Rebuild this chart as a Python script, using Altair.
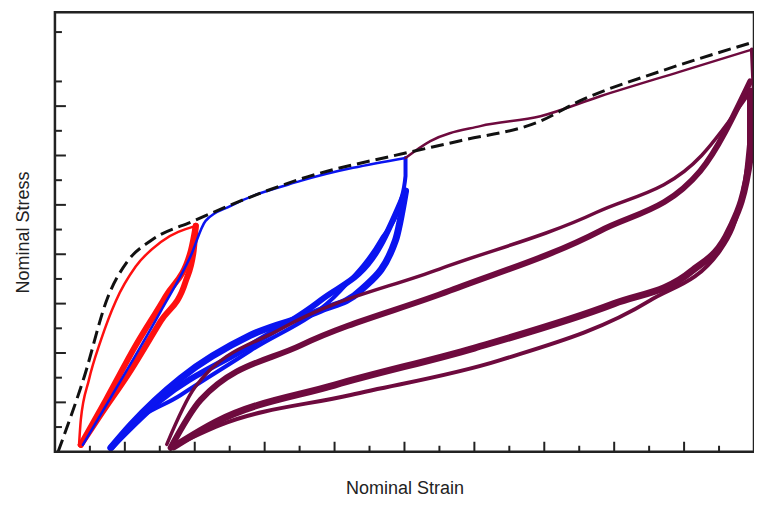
import altair as alt
import pandas as pd

# envelope (dashed)
env_x = [0.09, 0.83, 1.51, 2.09, 2.74, 3.97, 5.31, 7.03, 10.03, 11.6, 13.9, 15.0, 17.3, 20.0]
env_y = [0.0, 3.0, 6.25, 7.74, 8.55, 9.35, 10.16, 11.05, 12.1, 12.6, 13.4, 14.2, 15.4, 16.6]

# loading / unloading paths: (name, group, width, xs, ys)
paths = [
    ("r_load", "red", 2.5, [0.69, 0.74, 0.97, 1.31, 1.74, 2.31, 3.03, 4.03],
     [0.28, 1.29, 2.9, 4.5, 6.1, 7.5, 8.5, 9.15]),
    ("r_unload", "red", 6, [4.03, 3.97, 3.74, 3.03, 2.17, 1.31, 0.74],
     [9.15, 8.15, 6.9, 5.3, 3.3, 1.5, 0.28]),
    ("r_reload", "red", 6, [0.74, 1.46, 2.31, 3.17, 3.89, 4.03],
     [0.28, 2.1, 4.3, 6.3, 8.15, 9.15]),
    ("b_load", "blue", 2.5, [0.8, 1.89, 3.03, 3.89, 4.31, 5.03, 7.03, 10.03],
     [0.28, 2.9, 5.7, 7.95, 9.35, 9.96, 10.97, 11.9]),
    ("b_unload1", "blue", 4, [10.03, 10.03, 9.89, 9.31, 8.17, 5.6, 3.6, 1.89, 1.6],
     [11.9, 11.17, 10.16, 8.55, 6.53, 4.1, 2.3, 0.69, 0.16]),
    ("b_reload", "blue", 6, [1.6, 3.03, 5.6, 7.6, 9.31, 10.03],
     [0.16, 2.1, 4.31, 6.13, 8.35, 10.56]),
    ("b_unload2", "blue", 7, [10.03, 9.74, 8.74, 7.6, 5.6, 3.6, 2.17, 1.6],
     [10.56, 8.55, 6.53, 5.73, 4.72, 2.98, 1.09, 0.16]),
    ("p_load", "purple", 2.5, [10.03, 10.74, 12.17, 13.89, 15.6, 17.89, 19.94],
     [11.9, 12.58, 13.19, 13.59, 14.4, 15.4, 16.29]),
    ("p_unload1", "purple", 4, [19.94, 20.03, 19.74, 19.03, 17.03, 12.74, 8.46, 4.74, 3.31],
     [16.29, 14.19, 10.97, 8.15, 6.13, 3.71, 2.3, 1.09, 0.16]),
    ("p_reload1", "purple", 6, [3.31, 4.17, 7.03, 11.31, 15.6, 18.46, 19.89],
     [0.16, 2.1, 4.31, 6.53, 8.95, 11.37, 15.0]),
    ("p_reload2", "purple", 3.5, [3.2, 4.0, 6.5, 11.0, 15.5, 18.5, 19.9],
     [0.3, 2.6, 5.0, 7.4, 9.7, 12.0, 14.6]),
    ("p_unload2", "purple", 7, [19.9, 19.9, 19.3, 18.2, 16.0, 12.0, 8.0, 4.6, 3.4],
     [14.6, 12.0, 9.0, 7.3, 6.0, 4.2, 2.7, 1.2, 0.2]),
]

x_ticks = list(range(1, 20))
y_ticks = list(range(1, 16)) + [17]
x_major = [v for v in x_ticks if v % 2 == 0]
x_minor = [v for v in x_ticks if v % 2 == 1]
y_major = [v for v in y_ticks if v % 2 == 0]
y_minor = [v for v in y_ticks if v % 2 == 1]

rows = []
for name, grp, w, xs_, ys_ in paths:
    for i, (x, y) in enumerate(zip(xs_, ys_)):
        rows.append({"name": name, "grp": grp, "w": w, "i": i, "x": x, "y": y})
df = pd.DataFrame(rows)
env = pd.DataFrame({"x": env_x, "y": env_y, "i": range(len(env_x))})

xs = alt.Scale(domain=[0, 20], nice=False, zero=False)
ys = alt.Scale(domain=[0, 17.8], nice=False, zero=False)
title_style = dict(labels=False, ticks=False, domain=False, grid=False, titleFontSize=18,
                   titleFontWeight="normal", titleFont="Liberation Sans", titleColor="#222")
x_axis = alt.Axis(title="Nominal Strain", titlePadding=28, **title_style)
y_axis = alt.Axis(title="Nominal Stress", titlePadding=22, **title_style)

colors = alt.Scale(domain=["red", "blue", "purple"], range=["#ff1010", "#0a14f0", "#6e0a3e"])

loops = alt.Chart(df).mark_line(interpolate="monotone", strokeCap="round").encode(
    x=alt.X("x:Q", scale=xs, axis=x_axis),
    y=alt.Y("y:Q", scale=ys, axis=y_axis),
    color=alt.Color("grp:N", scale=colors, legend=None),
    strokeWidth=alt.StrokeWidth("w:Q", scale=None),
    detail="name:N",
    order="i:Q",
)

envelope = alt.Chart(env).mark_line(color="#111", strokeWidth=3, strokeDash=[13, 6],
                                    interpolate="monotone").encode(
    x=alt.X("x:Q", scale=xs, axis=x_axis),
    y=alt.Y("y:Q", scale=ys, axis=y_axis),
    order="i:Q",
)


def xtick(vals, length):
    return alt.Chart(pd.DataFrame({"v": vals})).mark_rule(color="#222", strokeWidth=2).encode(
        x=alt.X("v:Q", scale=xs, axis=x_axis), y=alt.value(440), y2=alt.value(440 - length))


def ytick(vals, length):
    return alt.Chart(pd.DataFrame({"v": vals})).mark_rule(color="#222", strokeWidth=2).encode(
        y=alt.Y("v:Q", scale=ys, axis=y_axis), x=alt.value(0), x2=alt.value(length))


frame = alt.Chart(pd.DataFrame({"a": [0]})).mark_rect(
    fill=None, stroke="#222", strokeWidth=2.5).encode(
    x=alt.value(0), x2=alt.value(700), y=alt.value(0), y2=alt.value(440))

chart = alt.layer(
    loops, envelope, xtick(x_major, 10), xtick(x_minor, 6), ytick(y_major, 11), ytick(y_minor, 7), frame
).properties(
    width=700, height=440,
    autosize=alt.AutoSizeParams(type="none"),
    padding={"left": 47, "top": 4, "right": 0, "bottom": 48},
).configure_view(stroke=None).configure(background="white")

chart.save("out.html", embed_options={"renderer": "svg", "actions": False})
